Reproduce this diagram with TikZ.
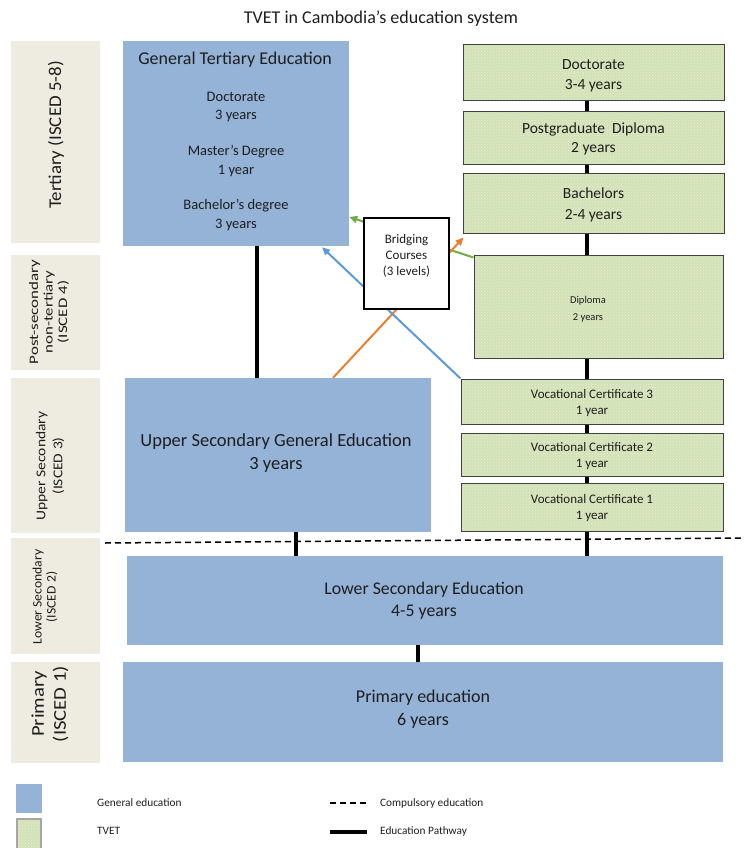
\documentclass[tikz,border=0pt]{standalone}
\usepackage{fontspec}
\setmainfont{Carlito}
\usetikzlibrary{patterns,arrows.meta,calc}
\definecolor{genblue}{HTML}{95B3D7}
\definecolor{lblbeige}{HTML}{EEECE1}
\definecolor{tvetgreen}{HTML}{D3E1B6}
\definecolor{txtgray}{HTML}{1E1E1E}
\definecolor{arrgreen}{HTML}{70AD47}
\definecolor{arrorange}{HTML}{ED7D31}
\definecolor{arrblue}{HTML}{5B9BD5}
\tikzset{
  lblbox/.style={fill=lblbeige, draw=none, inner sep=0pt},
  lbltext/.style={rotate=90, align=center, text=txtgray, inner sep=0pt},
  genbox/.style={fill=genblue, draw=none, inner sep=0pt},
  gentext/.style={align=center, text=txtgray, inner sep=0pt},
  tvetbox/.style={preaction={fill=tvetgreen}, pattern=crosshatch dots, pattern color=white!45!tvetgreen, draw=black!75, line width=1pt, inner sep=0pt},
  tvettext/.style={align=center, text=txtgray, inner sep=0pt},
  pathway/.style={line width=3.5pt, black},
  compulsory/.style={line width=1.5pt, black, dash pattern=on 6pt off 4pt},
  bridgearrow/.style={line width=2pt, -{Triangle[length=8pt,width=7pt]}},
}
\begin{document}
\begin{tikzpicture}[x=1pt,y=-1pt]
\useasboundingbox (0,0) rectangle (744,848);

% title
\node[font=\fontsize{18}{21}\selectfont, text=txtgray] (title) at (381,19) {TVET in Cambodia’s education system};

% level labels
\node[lblbox, minimum width=89pt, minimum height=202pt] (lt) at (55.5,142) {};
\node[lbltext, xscale=1.05, font=\fontsize{18}{21}\selectfont] (ltT) at (56,135) {Tertiary (ISCED 5-8)};
\node[lblbox, minimum width=89pt, minimum height=115pt] (lp) at (55.5,312.5) {};
\node[lbltext, xscale=1.3, font=\fontsize{13}{14.5}\selectfont] (lpT) at (49,312) {Post-secondary\\non-tertiary\\(ISCED 4)};
\node[lblbox, minimum width=89pt, minimum height=155pt] (lu) at (55.5,455.5) {};
\node[lbltext, xscale=1.15, font=\fontsize{13.5}{17}\selectfont] (luT) at (50,466) {Upper Secondary\\(ISCED 3)};
\node[lblbox, minimum width=89pt, minimum height=116pt] (ll) at (55.5,596) {};
\node[lbltext, xscale=1.05, font=\fontsize{13}{14}\selectfont] (llT) at (45,597) {Lower Secondary\\(ISCED 2)};
\node[lblbox, minimum width=89pt, minimum height=101pt] (lpr) at (55.5,712.5) {};
\node[lbltext, xscale=1.15, font=\fontsize{18}{22}\selectfont] (lprT) at (50,704) {Primary\\(ISCED 1)};

% general education boxes
\node[genbox, minimum width=226pt, minimum height=205pt] (gte) at (236,143.5) {};
\node[gentext, font=\fontsize{18}{21}\selectfont] (gteT) at (235,60) {General Tertiary Education};
\node[gentext, font=\fontsize{14.5}{18.5}\selectfont] (gteD) at (236,107) {Doctorate\\3 years};
\node[gentext, font=\fontsize{14.5}{18.5}\selectfont] (gteM) at (236,161) {Master’s Degree\\1 year};
\node[gentext, font=\fontsize{14.5}{18.5}\selectfont] (gteB) at (236,215) {Bachelor’s degree\\3 years};

\node[genbox, minimum width=306pt, minimum height=154pt] (usg) at (278,455) {};
\node[gentext, font=\fontsize{18.5}{23}\selectfont] (usgT) at (276,453) {Upper Secondary General Education\\3 years};

\node[genbox, minimum width=596pt, minimum height=89pt] (lse) at (425,600.5) {};
\node[gentext, font=\fontsize{17.8}{22}\selectfont] (lseT) at (424,601) {Lower Secondary Education\\4-5 years};

\node[genbox, minimum width=600pt, minimum height=100pt] (pri) at (423,712) {};
\node[gentext, font=\fontsize{18}{23}\selectfont] (priT) at (423,709) {Primary education\\6 years};

% TVET boxes
\node[tvetbox, minimum width=261pt, minimum height=56pt] (doc) at (593.5,73) {};
\node[tvettext, font=\fontsize{15.5}{20}\selectfont] (docT) at (593.5,76) {Doctorate\\3-4 years};
\node[tvetbox, minimum width=261pt, minimum height=52pt] (pgd) at (593.5,138) {};
\node[tvettext, font=\fontsize{15.5}{18.5}\selectfont] (pgdT) at (593.5,139) {Postgraduate\ \ Diploma\\2 years};
\node[tvetbox, minimum width=261pt, minimum height=60pt] (bac) at (593.5,203) {};
\node[tvettext, font=\fontsize{15.5}{20.5}\selectfont] (bacT) at (593.5,205) {Bachelors\\2-4 years};
\node[tvetbox, minimum width=249pt, minimum height=103pt] (dip) at (598.5,306.5) {};
\node[tvettext, font=\fontsize{10.5}{17}\selectfont] (dipT) at (588,309) {Diploma\\2 years};
\node[tvetbox, minimum width=262pt, minimum height=45pt] (vc3) at (592,401.5) {};
\node[tvettext, font=\fontsize{13}{16.5}\selectfont] (vc3T) at (592,403) {Vocational Certificate 3\\1 year};
\node[tvetbox, minimum width=262pt, minimum height=43pt] (vc2) at (592,454.5) {};
\node[tvettext, font=\fontsize{13}{16.5}\selectfont] (vc2T) at (592,456) {Vocational Certificate 2\\1 year};
\node[tvetbox, minimum width=262pt, minimum height=48pt] (vc1) at (592,507) {};
\node[tvettext, font=\fontsize{13}{16.5}\selectfont] (vc1T) at (592,508) {Vocational Certificate 1\\1 year};

% pathway coordinates
\coordinate (gx) at (587,0);
\coordinate (px1) at (257,0);
\coordinate (px2) at (296,0);
\coordinate (px3) at (418,0);

% compulsory education line
\coordinate (cl) at (105,543);
\coordinate (cr) at (744,538);
\draw[compulsory] (cl) -- (cr);

% education pathways
\draw[pathway] (doc.south -| gx) -- (pgd.north -| gx);
\draw[pathway] (pgd.south -| gx) -- (bac.north -| gx);
\draw[pathway] (bac.south -| gx) -- (dip.north -| gx);
\draw[pathway] (dip.south -| gx) -- (vc3.north -| gx);
\draw[pathway] (vc3.south -| gx) -- (vc2.north -| gx);
\draw[pathway] (vc2.south -| gx) -- (vc1.north -| gx);
\draw[pathway] (vc1.south -| gx) -- (lse.north -| gx);
\draw[pathway] (gte.south -| px1) -- (usg.north -| px1);
\draw[pathway] (usg.south -| px2) -- (lse.north -| px2);
\draw[pathway] (lse.south -| px3) -- (pri.north -| px3);

% bridging arrows (drawn under the bridging box)
\draw[bridgearrow, arrgreen] ($(dip.north west)+(0,3)$) -- (gte.east |- 0,217);
\draw[bridgearrow, arrorange] (usg.north -| 333,0) -- ($(bac.south west)+(1,4)$);
\draw[bridgearrow, arrblue] (vc3.north west) -- ($(gte.south -| 322,0)+(0,1)$);

% bridging courses box
\node[fill=white, draw=black, line width=1.2pt, minimum width=85pt, minimum height=91pt, inner sep=0pt] (bri) at (406.5,263.5) {};
\node[gentext, font=\fontsize{13}{16}\selectfont] (briT) at (406.5,256) {Bridging\\Courses\\(3 levels)};

% legend
\node[genbox, minimum width=26pt, minimum height=29pt] (lgGen) at (29,798.5) {};
\node[tvetbox, draw=black!35, line width=2pt, minimum width=24pt, minimum height=30pt] (lgTvet) at (29,834) {};
\node[gentext, anchor=west, font=\fontsize{11.3}{13}\selectfont] (lgGenT) at (97,803) {General education};
\node[gentext, anchor=west, font=\fontsize{11.3}{13}\selectfont] (lgTvetT) at (97,831) {TVET};
\coordinate (ld1) at (330,803);
\coordinate (ld2) at (367,803);
\draw[compulsory] (ld1) -- (ld2);
\coordinate (lp1) at (330,832);
\coordinate (lp2) at (367,832);
\draw[pathway] (lp1) -- (lp2);
\node[gentext, anchor=west, font=\fontsize{11.3}{13}\selectfont] (lgCompT) at (380,803) {Compulsory education};
\node[gentext, anchor=west, font=\fontsize{11.3}{13}\selectfont] (lgPathT) at (380,831) {Education Pathway};
\end{tikzpicture}
\end{document}
